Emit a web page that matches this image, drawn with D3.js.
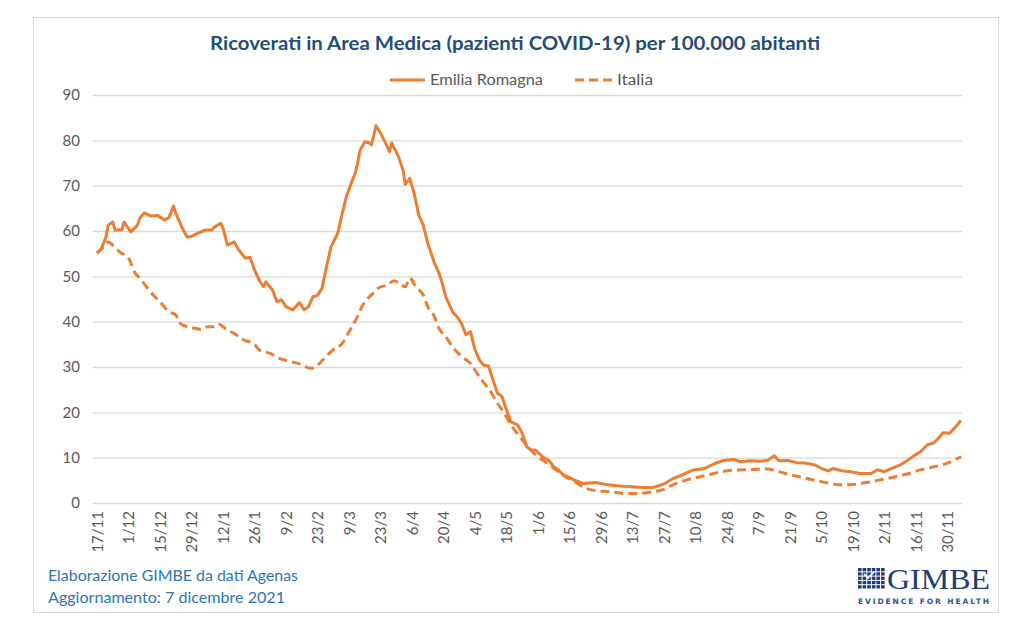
<!DOCTYPE html>
<html><head><meta charset="utf-8">
<script src="https://cdn.jsdelivr.net/npm/d3@7"></script>
<style>body{margin:0;background:#fff}svg{display:block}</style>
</head><body>
<svg id="c" width="1024" height="638"></svg>
<script>
const chartTitle = "Ricoverati in Area Medica (pazienti COVID-19) per 100.000 abitanti";
const seriesNames = ["Emilia Romagna", "Italia"];
const footerLines = ["Elaborazione GIMBE da dati Agenas", "Aggiornamento: 7 dicembre 2021"];

const erDates = ["2020-11-17","2020-11-19","2020-11-21","2020-11-22","2020-11-24","2020-11-25","2020-11-28","2020-11-29","2020-12-02","2020-12-05","2020-12-06","2020-12-08","2020-12-11","2020-12-14","2020-12-17","2020-12-19","2020-12-21","2020-12-22","2020-12-25","2020-12-27","2020-12-29","2020-12-31","2021-01-04","2021-01-07","2021-01-08","2021-01-11","2021-01-12","2021-01-14","2021-01-17","2021-01-19","2021-01-22","2021-01-24","2021-01-26","2021-01-28","2021-01-30","2021-01-31","2021-02-03","2021-02-05","2021-02-07","2021-02-09","2021-02-12","2021-02-15","2021-02-17","2021-02-19","2021-02-21","2021-02-23","2021-02-25","2021-02-27","2021-03-01","2021-03-04","2021-03-06","2021-03-08","2021-03-10","2021-03-12","2021-03-14","2021-03-16","2021-03-18","2021-03-19","2021-03-21","2021-03-23","2021-03-26","2021-03-27","2021-03-28","2021-03-31","2021-04-02","2021-04-03","2021-04-05","2021-04-07","2021-04-09","2021-04-11","2021-04-13","2021-04-16","2021-04-18","2021-04-19","2021-04-21","2021-04-24","2021-04-26","2021-04-28","2021-04-30","2021-05-02","2021-05-04","2021-05-06","2021-05-08","2021-05-10","2021-05-12","2021-05-14","2021-05-16","2021-05-18","2021-05-20","2021-05-23","2021-05-25","2021-05-27","2021-05-29","2021-05-31","2021-06-03","2021-06-06","2021-06-08","2021-06-10","2021-06-12","2021-06-15","2021-06-17","2021-06-21","2021-06-27","2021-07-02","2021-07-06","2021-07-12","2021-07-18","2021-07-22","2021-07-27","2021-07-31","2021-08-05","2021-08-09","2021-08-14","2021-08-18","2021-08-22","2021-08-27","2021-08-30","2021-09-03","2021-09-08","2021-09-11","2021-09-14","2021-09-16","2021-09-20","2021-09-24","2021-09-28","2021-10-02","2021-10-05","2021-10-08","2021-10-10","2021-10-14","2021-10-18","2021-10-22","2021-10-27","2021-10-30","2021-11-02","2021-11-05","2021-11-09","2021-11-12","2021-11-15","2021-11-18","2021-11-21","2021-11-24","2021-11-26","2021-11-28","2021-12-01","2021-12-03","2021-12-06"];
const erValues = [55.1,56.2,58.7,61.3,62,60.2,60.2,62,59.8,61.3,62.8,64,63.3,63.4,62.4,63,65.5,63.9,60.6,58.7,58.8,59.3,60.2,60.2,60.8,61.7,60.6,56.9,57.6,55.8,54,54.2,51.4,49.2,47.7,48.8,47,44.4,44.8,43.3,42.6,44.2,42.6,43.3,45.5,45.8,47.4,52.1,56.5,59.5,63.9,67.9,70.5,73.1,77.9,79.7,79.4,79,83.2,81.6,78.6,77.5,79.4,76.4,73.5,70.3,71.6,68.2,63.5,61.3,57.3,52.9,50.7,49.2,45.5,42.2,41.1,39.6,37.1,37.8,33.8,31.5,30.4,30.2,27.1,24.2,23.5,20.5,17.9,17.2,15.4,12.4,11.7,11.7,10.2,9.3,8,7.3,6.3,5.6,5.1,4.3,4.5,4,3.8,3.6,3.4,3.4,4.2,5.4,6.4,7.3,7.6,8.6,9.3,9.6,9.1,9.3,9.2,9.4,10.4,9.3,9.4,8.9,8.8,8.4,7.6,7.1,7.6,7.1,6.9,6.5,6.5,7.3,6.9,7.6,8.4,9.3,10.4,11.3,12.8,13.3,14.3,15.5,15.4,16.5,18.2];

const itDates = ["2020-11-17","2020-11-19","2020-11-22","2020-11-24","2020-11-27","2020-12-01","2020-12-04","2020-12-06","2020-12-09","2020-12-12","2020-12-15","2020-12-19","2020-12-22","2020-12-24","2020-12-27","2020-12-30","2021-01-02","2021-01-05","2021-01-08","2021-01-10","2021-01-13","2021-01-17","2021-01-21","2021-01-26","2021-01-28","2021-02-02","2021-02-06","2021-02-11","2021-02-15","2021-02-20","2021-02-23","2021-02-26","2021-03-02","2021-03-06","2021-03-09","2021-03-12","2021-03-16","2021-03-19","2021-03-22","2021-03-26","2021-03-29","2021-04-01","2021-04-03","2021-04-05","2021-04-08","2021-04-11","2021-04-13","2021-04-16","2021-04-18","2021-04-21","2021-04-24","2021-04-28","2021-05-02","2021-05-04","2021-05-07","2021-05-10","2021-05-14","2021-05-17","2021-05-20","2021-05-24","2021-05-28","2021-05-31","2021-06-05","2021-06-09","2021-06-11","2021-06-14","2021-06-17","2021-06-21","2021-06-27","2021-07-03","2021-07-10","2021-07-16","2021-07-22","2021-07-27","2021-07-31","2021-08-06","2021-08-12","2021-08-18","2021-08-24","2021-08-30","2021-09-05","2021-09-11","2021-09-14","2021-09-19","2021-09-25","2021-10-01","2021-10-07","2021-10-13","2021-10-19","2021-10-25","2021-10-31","2021-11-06","2021-11-12","2021-11-18","2021-11-24","2021-11-30","2021-12-06"];
const itValues = [55.1,56,57.6,56.9,55.4,54,50.7,49.6,47.7,45.9,44.4,42.2,41.5,39.6,38.9,38.6,38.3,38.9,38.9,39.5,38.5,37.4,36,35,33.8,33,31.9,31.2,30.7,29.7,30.4,31.9,33.8,35.2,37.8,40.4,44.4,45.9,47.4,48.1,49,48.3,47.7,49.6,47.5,45.9,43.3,41.1,38.5,36.7,34.5,32.3,30.8,29.3,27.1,25.3,22,19.8,17.2,14.6,12.1,10.6,8.8,7.3,6.5,5.6,4.8,3.5,2.7,2.5,2.1,2.1,2.5,3,4,5.1,5.8,6.5,7.1,7.3,7.4,7.5,7.2,6.5,5.8,5.1,4.5,4,4.1,4.5,5.1,5.7,6.4,7.3,8,8.8,10.2];

const tickDates = ["2020-11-17","2020-12-01","2020-12-15","2020-12-29","2021-01-12","2021-01-26","2021-02-09","2021-02-23","2021-03-09","2021-03-23","2021-04-06","2021-04-20","2021-05-04","2021-05-18","2021-06-01","2021-06-15","2021-06-29","2021-07-13","2021-07-27","2021-08-10","2021-08-24","2021-09-07","2021-09-21","2021-10-05","2021-10-19","2021-11-02","2021-11-16","2021-11-30"];
const tickLabels = ["17/11","1/12","15/12","29/12","12/1","26/1","9/2","23/2","9/3","23/3","6/4","20/4","4/5","18/5","1/6","15/6","29/6","13/7","27/7","10/8","24/8","7/9","21/9","5/10","19/10","2/11","16/11","30/11"];
const yTicks = [0,10,20,30,40,50,60,70,80,90];

const parse = d3.timeParse("%Y-%m-%d");
const svg = d3.select("#c");
const FONT = "Lato, 'Open Sans', sans-serif";
const ORANGE = "#ED7D31";

// frame
svg.append("rect").attr("x",33.5).attr("y",17.5).attr("width",965).attr("height",595)
  .attr("fill","#fff").attr("stroke","#D9D9D9").attr("stroke-width",1);

const x = d3.scaleTime().domain([parse("2020-11-17"), parse("2021-12-06")]).range([97, 961]);
const y = d3.scaleLinear().domain([0, 90]).range([503, 95]);

// y axis + gridlines
const gy = svg.append("g").attr("transform","translate(93,0)")
  .call(d3.axisLeft(y).tickValues(yTicks).tickSize(-869).tickPadding(13));
gy.select(".domain").remove();
gy.selectAll(".tick line").attr("stroke","#D9D9D9").attr("stroke-width",1.3);
gy.selectAll(".tick text").attr("fill","#595959").style("font-family",FONT).style("font-size","15px");

// x axis
const tickMap = new Map(tickDates.map((d,i)=>[+parse(d), tickLabels[i]]));
const gx = svg.append("g").attr("transform","translate(0,503)")
  .call(d3.axisBottom(x).tickValues(tickDates.map(parse)).tickSize(0).tickFormat(d=>tickMap.get(+d)));
gx.select(".domain").remove();
gx.selectAll(".tick text")
  .attr("fill","#595959").style("font-family",FONT).style("font-size","15px")
  .attr("text-anchor","end").attr("transform","rotate(-90)")
  .attr("x",-8).attr("y",0).attr("dy","0.35em");

// lines
const erData = erDates.map((d,i)=>({d:parse(d), v:erValues[i]}));
const itData = itDates.map((d,i)=>({d:parse(d), v:itValues[i]}));
const lineLin = d3.line().x(p=>x(p.d)).y(p=>y(p.v));
const lineSmooth = d3.line().x(p=>x(p.d)).y(p=>y(p.v)).curve(d3.curveMonotoneX);

svg.append("path").datum(itData).attr("d",lineSmooth).attr("fill","none")
  .attr("stroke",ORANGE).attr("stroke-width",3).attr("stroke-dasharray","9,5");
svg.append("path").datum(erData).attr("d",lineLin).attr("fill","none")
  .attr("stroke",ORANGE).attr("stroke-width",3).attr("stroke-linejoin","round");

// title
svg.append("text").attr("x",515).attr("y",50).attr("text-anchor","middle")
  .attr("fill","#1F4E79").style("font-family",FONT).style("font-weight","bold").style("font-size","19px")
  .attr("textLength",610).attr("lengthAdjust","spacingAndGlyphs").text(chartTitle);

// legend
const lg = svg.append("g");
lg.append("line").attr("x1",390).attr("x2",425).attr("y1",80).attr("y2",80)
  .attr("stroke",ORANGE).attr("stroke-width",3);
lg.append("text").attr("x",430).attr("y",85).attr("fill","#595959")
  .style("font-family",FONT).style("font-size","14.5px")
  .attr("textLength",113).attr("lengthAdjust","spacingAndGlyphs").text(seriesNames[0]);
lg.append("line").attr("x1",575).attr("x2",612).attr("y1",80).attr("y2",80)
  .attr("stroke",ORANGE).attr("stroke-width",3).attr("stroke-dasharray","9,5");
lg.append("text").attr("x",617).attr("y",85).attr("fill","#595959")
  .style("font-family",FONT).style("font-size","14.5px")
  .attr("textLength",36).attr("lengthAdjust","spacingAndGlyphs").text(seriesNames[1]);

// footer
svg.append("text").attr("x",48).attr("y",581).attr("fill","#2E75B6")
  .style("font-family",FONT).style("font-size","16px")
  .attr("textLength",250).attr("lengthAdjust","spacingAndGlyphs").text(footerLines[0]);
svg.append("text").attr("x",48).attr("y",603).attr("fill","#2E75B6")
  .style("font-family",FONT).style("font-size","16px")
  .attr("textLength",237).attr("lengthAdjust","spacingAndGlyphs").text(footerLines[1]);

// GIMBE logo
const logo = svg.append("g");
const navy = "#1F3C74";
for (let r=0;r<5;r++) for (let c=0;c<6;c++) {
  logo.append("rect").attr("x",858+c*4.6).attr("y",568+r*4.3).attr("width",3.6).attr("height",3.3).attr("fill",navy);
}
logo.append("path").attr("d","M864,574 L868,578 L874,572").attr("fill","none").attr("stroke","#fff").attr("stroke-width",1.6);
logo.append("text").attr("x",887).attr("y",589).attr("fill",navy)
  .style("font-family","'Liberation Serif', 'DejaVu Serif', serif").style("font-size","30px")
  .attr("textLength",103).attr("lengthAdjust","spacingAndGlyphs").text("GIMBE");
logo.append("text").attr("x",858).attr("y",604).attr("fill","#2F5597")
  .style("font-family","'DejaVu Sans', sans-serif").style("font-weight","bold").style("font-size","7.5px")
  .attr("textLength",131).attr("lengthAdjust","spacing").text("EVIDENCE FOR HEALTH");
</script>
</body></html>
